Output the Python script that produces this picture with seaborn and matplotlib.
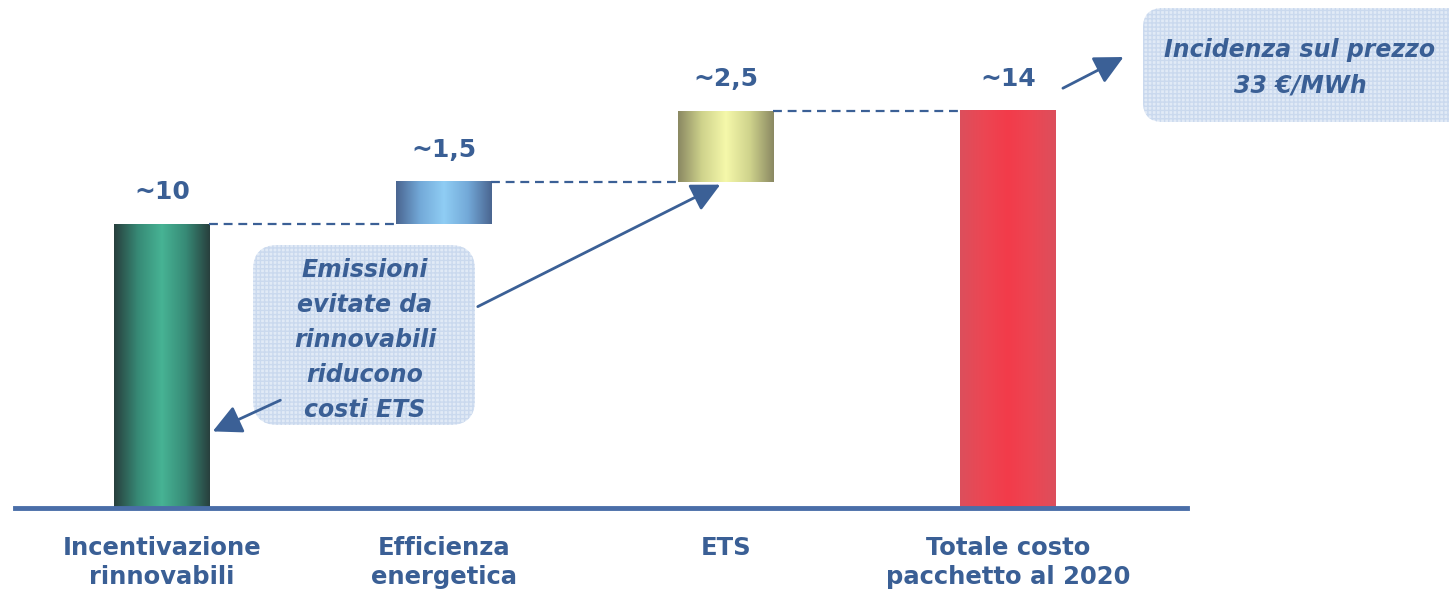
import numpy as np
import pandas as pd
import matplotlib
matplotlib.use("Agg")
import matplotlib.pyplot as plt
import seaborn as sns
from matplotlib.colors import LinearSegmentedColormap
from matplotlib.patches import FancyBboxPatch

# Waterfall: cost components of the 2020 package
categories = ["Incentivazione\nrinnovabili", "Efficienza\nenergetica", "ETS",
              "Totale costo\npacchetto al 2020"]
steps = [10, 1.5, 2.5]
total = 14
value_labels = ["~10", "~1,5", "~2,5", "~14"]

heights = steps + [total]
bases = list(np.concatenate([[0], np.cumsum(steps)[:-1]])) + [0]

# (edge, mid, centre) colours for the cylinder-like shading of each bar
bar_shades = [
    ("#283f3d", "#378a76", "#47b394"),
    ("#4a6590", "#73a9d8", "#8fcdf4"),
    ("#8a8862", "#cfd38c", "#f5f8aa"),
    ("#dc4f5c", "#ec4653", "#f33b4a"),
]

TEXT = "#3a5f95"
LINE = "#3b6096"

sns.set_theme(style="white")
plt.rcParams["font.family"] = ["DejaVu Sans"]

df = pd.DataFrame({"category": categories, "height": heights, "base": bases})

fig = plt.figure(figsize=(14.49, 5.92), dpi=100, facecolor="white")
ax = fig.add_axes([15 / 1449, 84 / 592, 1172 / 1449, 508 / 592])
ax.set_facecolor("white")

sns.barplot(data=df, x="category", y="height", bottom=df["base"].to_numpy(),
            width=0.337, errorbar=None, color="#888888", ax=ax, zorder=2)

# replace flat fills with horizontal gradients
grad = np.linspace(0, 1, 256)[None, :]
for patch, (edge, mid, centre) in zip(ax.patches, bar_shades):
    x0, y0 = patch.get_x(), patch.get_y()
    w, h = patch.get_width(), patch.get_height()
    cmap = LinearSegmentedColormap.from_list(
        "shade", [(0, edge), (0.25, mid), (0.5, centre), (0.75, mid), (1, edge)])
    ax.imshow(grad, cmap=cmap, extent=(x0, x0 + w, y0, y0 + h),
              aspect="auto", zorder=2, interpolation="bilinear")
    patch.set_visible(False)

# dashed connectors between consecutive steps
tops = [b + h for b, h in zip(bases, heights)]
half = 0.337 / 2
for i in range(len(heights) - 1):
    ax.plot([i + half, i + 1 - half], [tops[i], tops[i]], color=LINE,
            lw=1.6, ls=(0, (4, 2.6)), zorder=3)

# value labels above bars
for i, lab in enumerate(value_labels):
    ax.annotate(lab, (i, tops[i]), xytext=(0, 23), textcoords="offset points",
                ha="center", va="center", fontsize=18, fontweight="bold",
                color=TEXT)

ax.set_xlim(-0.521, 3.635)
ax.set_ylim(0, 17.91)
ax.set_yticks([])
ax.set_xlabel("")
ax.set_ylabel("")
for s in ["left", "right", "top"]:
    ax.spines[s].set_visible(False)
ax.spines["bottom"].set_color("#4a6ea8")
ax.spines["bottom"].set_linewidth(3.5)
ax.tick_params(axis="x", length=0, pad=20, labelsize=17.5, labelcolor=TEXT)
for t in ax.get_xticklabels():
    t.set_fontweight("bold")
    t.set_linespacing(1.3)

# callout boxes, kept beneath the arrows
inch = fig.dpi_scale_trans
box_kw = dict(facecolor="#e1eaf6", edgecolor="#cad9ee", hatch="++++",
              linewidth=0, transform=inch, zorder=1, clip_on=False)
ax.add_patch(FancyBboxPatch((2.53, 1.67), 2.22, 1.80,
                            boxstyle="round,pad=0,rounding_size=0.25", **box_kw))
ax.add_patch(FancyBboxPatch((11.43, 4.70), 3.3, 1.14,
                            boxstyle="round,pad=0,rounding_size=0.2", **box_kw))

ax.text(3.65, 2.52, "Emissioni\nevitate da\nrinnovabili\nriducono\ncosti ETS",
        transform=inch, ha="center", va="center", fontsize=17,
        fontweight="bold", fontstyle="italic", color=TEXT, linespacing=1.59,
        zorder=5, clip_on=False)
ax.text(13.0, 5.24, "Incidenza sul prezzo\n33 €/MWh", transform=inch,
        ha="center", va="center", fontsize=17, fontweight="bold",
        fontstyle="italic", color=TEXT, linespacing=1.58, zorder=5,
        clip_on=False)

# arrows
arrow_kw = dict(arrowstyle="-|>,head_length=0.8,head_width=0.4", color=LINE,
                lw=2, mutation_scale=22, shrinkA=0, shrinkB=0)
ax.annotate("", xy=(0.18, 2.7), xytext=(0.42, 3.8),
            arrowprops=arrow_kw, annotation_clip=False)
ax.annotate("", xy=(1.98, 11.4), xytext=(1.12, 7.1),
            arrowprops=arrow_kw, annotation_clip=False)
ax.annotate("", xy=(3.41, 15.9), xytext=(3.195, 14.8),
            arrowprops=arrow_kw, annotation_clip=False)

fig.savefig("out.png", dpi=100, facecolor="white")
